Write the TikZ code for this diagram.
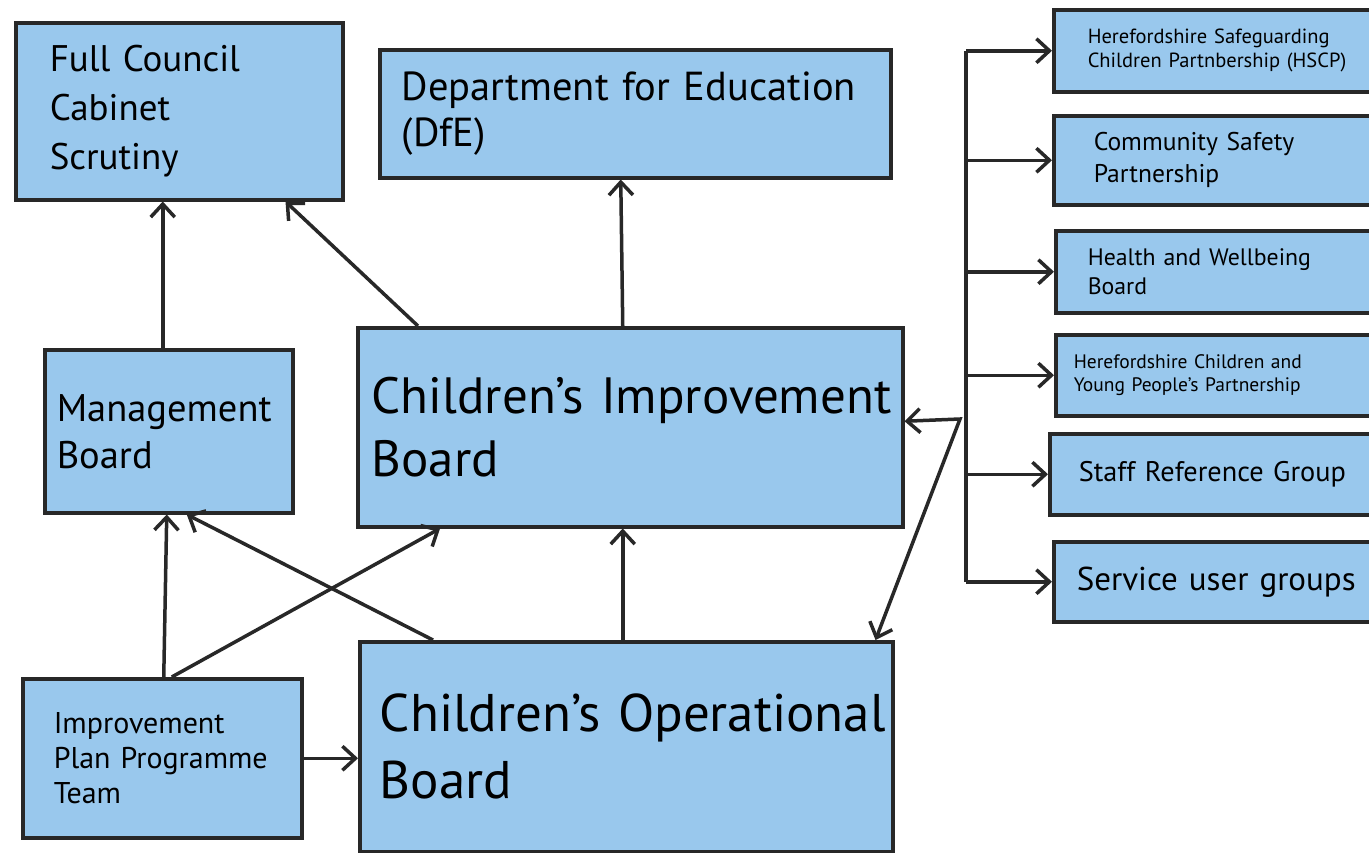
\documentclass[tikz,border=0pt]{standalone}
\usepackage{fontspec}
\setmainfont{PT Sans}
\usetikzlibrary{arrows.meta}
\definecolor{boxfill}{RGB}{153,200,237}
\definecolor{edge}{RGB}{40,40,40}
\begin{document}
\begin{tikzpicture}[x=1pt,y=-1pt,
  box/.style={draw=edge, fill=boxfill, line width=3.5pt, align=left, inner ysep=0pt, anchor=north west, text=black},
  arr/.style={draw=edge, line width=3.5pt, -{Straight Barb[length=13pt,width=24pt]}},
  dblarr/.style={draw=edge, line width=3.5pt, line join=miter, {Straight Barb[length=13pt,width=24pt]}-{Straight Barb[length=13pt,width=24pt]}},
  busline/.style={draw=edge, line width=3.5pt, line cap=square}
]
\useasboundingbox[fill=white] (0,0) rectangle (1369,852);

% left and centre boxes
\node[box, minimum height=177pt, text width=259pt, inner xsep=34pt, font=\fontsize{37}{49}\selectfont] (fc) at (14,21) {Full Council\\Cabinet\\Scrutiny};
\node[box, minimum height=128pt, text width=467pt, inner xsep=22pt, font=\fontsize{40.5}{46}\selectfont] (dfe) at (378,48) {\mbox{Department for Education}\\(DfE)};
\node[box, minimum height=163pt, text width=224pt, inner xsep=12pt, font=\fontsize{38.5}{47}\selectfont] (mb) at (43,348) {Management\\Board};
\node[box, minimum height=199pt, text width=517pt, inner xsep=14pt, font=\fontsize{51}{63}\selectfont] (cib) at (356,326) {\mbox{Children's Improvement}\\Board};
\node[box, minimum height=159pt, text width=217pt, inner xsep=31pt, font=\fontsize{30}{35}\selectfont] (ippt) at (21,677) {Improvement\\\mbox{Plan Programme}\\Team};
\node[box, minimum height=210pt, text width=493pt, inner xsep=20pt, font=\fontsize{53}{67}\selectfont] (cob) at (358,640) {\mbox{Children's Operational}\\Board};

% right column boxes
\node[box, minimum height=82pt, text width=260pt, inner xsep=34pt, font=\fontsize{20.5}{24}\selectfont] (hscp) at (1052,8) {\mbox{Herefordshire Safeguarding}\\\mbox{Children Partnbership (HSCP)}};
\node[box, minimum height=89pt, text width=248pt, inner xsep=40pt, font=\fontsize{25.6}{32}\selectfont] (csp) at (1052,114) {Community Safety\\Partnership};
\node[box, minimum height=82pt, text width=262pt, inner xsep=32pt, font=\fontsize{23.8}{29}\selectfont] (hwb) at (1054,229) {Health and Wellbeing\\Board};
\node[box, minimum height=81pt, text width=290pt, inner xsep=18pt, font=\fontsize{19.5}{23}\selectfont] (hcyp) at (1054,333) {Herefordshire Children and\\\mbox{Young People's Partnership}};
\node[box, minimum height=81pt, text width=274pt, inner xsep=29pt, font=\fontsize{28.3}{32}\selectfont] (srg) at (1048,432) {\mbox{Staff Reference Group}};
\node[box, minimum height=80pt, text width=282pt, inner xsep=23pt, font=\fontsize{33}{36}\selectfont] (sug) at (1052,540) {\mbox{Service user groups}};

% connectors
\draw[arr] ([xshift=-6pt]mb.north) -- ([xshift=-6pt]mb.north |- fc.south);
\draw[arr] ([xshift=62pt]cib.north west) -- ([xshift=-59pt]fc.south east);
\draw[arr] ([xshift=-7.5pt]cib.north) -- ([xshift=-14.5pt]dfe.south);
\draw[arr] ([xshift=1.5pt]ippt.north) -- ([xshift=-2pt]mb.south);
\draw[arr] ([xshift=9.5pt]ippt.north) -- ([xshift=84pt]cib.south west);
\draw[arr] ([xshift=75pt]cob.north west) -- ([xshift=18pt]mb.south);
\draw[arr] ([xshift=-3.5pt]cob.north) -- ([xshift=-3.5pt]cob.north |- cib.south);
\draw[arr] (ippt.east) -- (ippt.east -| cob.west);

\coordinate (bend) at (960,419);
\draw[dblarr] ([yshift=6pt]cib.east) -- (bend) -- ([xshift=-19pt]cob.north east);

% bus to the right column
\coordinate (busx) at (966,0);
\draw[busline] (busx |- hscp.west) -- (busx |- sug.west);
\draw[arr] (busx |- hscp.west) -- (hscp.west);
\draw[arr] (busx |- csp.west) -- (csp.west);
\draw[arr] (busx |- hwb.west) -- (hwb.west);
\draw[arr] (busx |- hcyp.west) -- (hcyp.west);
\draw[arr] (busx |- srg.west) -- (srg.west);
\draw[arr] (busx |- sug.west) -- (sug.west);
\end{tikzpicture}
\end{document}
